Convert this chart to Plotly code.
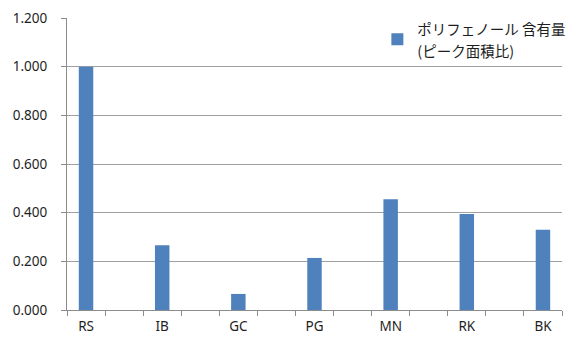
import plotly.graph_objects as go

# Samples and their relative polyphenol content (peak-area ratio)
samples = ["RS", "IB", "GC", "PG", "MN", "RK", "BK"]
values = [1.000, 0.266, 0.066, 0.214, 0.455, 0.395, 0.330]

# each sample sits in every other slot, leaving an empty slot between neighbours
slot_step = 2
positions = [i * slot_step for i in range(len(samples))]
n_slots = positions[-1] + 1
boundaries = [b - 0.5 for b in range(n_slots + 1)]

y_ticks = [0.0, 0.2, 0.4, 0.6, 0.8, 1.0, 1.2]

series_name = ('<span style="font-size:14.5px">ポリフェノール 含有量</span><br>'
               '<span style="font-size:14.5px">(ピーク面積比)</span>')

fig = go.Figure()
fig.add_trace(go.Bar(
    x=positions,
    y=values,
    width=0.38,
    name=series_name,
    marker=dict(color="#4F81BD", line=dict(width=0)),
    showlegend=True,
))

axis_color = "#8C8C8C"
text_color = "#1E1E1E"

fig.update_layout(
    width=566,
    height=338,
    margin=dict(l=67, r=4, t=18, b=28, autoexpand=False),
    paper_bgcolor="white",
    plot_bgcolor="white",
    font=dict(family="Noto Sans CJK JP, Noto Sans, sans-serif", size=13, color=text_color),
    showlegend=True,
    legend=dict(
        x=0.627, y=1.025, xanchor="left", yanchor="top",
        bgcolor="rgba(0,0,0,0)",
        font=dict(size=17, family="Noto Sans CJK JP", color=text_color),
        itemclick=False, itemdoubleclick=False,
    ),
    xaxis=dict(
        range=[boundaries[0], boundaries[-1]],
        tickmode="array",
        tickvals=positions,
        ticktext=samples,
        ticks="",
        showgrid=False,
        showline=True,
        linecolor=axis_color,
        linewidth=1,
        zeroline=False,
        tickfont=dict(family="Noto Sans, sans-serif", size=13.5, color=text_color),
        ticklabelstandoff=4,
        minor=dict(tickmode="array", tickvals=boundaries, ticks="outside",
                   ticklen=5, tickcolor=axis_color, showgrid=False),
        fixedrange=True,
    ),
    yaxis=dict(
        range=[0, 1.2],
        tickmode="array",
        tickvals=y_ticks,
        tickformat=".3f",
        ticks="outside",
        ticklen=5,
        tickcolor=axis_color,
        showgrid=True,
        gridcolor="#A0A0A0",
        gridwidth=1,
        showline=True,
        linecolor=axis_color,
        linewidth=1,
        zeroline=False,
        tickfont=dict(family="Noto Sans, sans-serif", size=13.5, color=text_color),
        ticklabelstandoff=11,
        fixedrange=True,
    ),
)

fig.write_html("out.html", config={"displayModeBar": False})
